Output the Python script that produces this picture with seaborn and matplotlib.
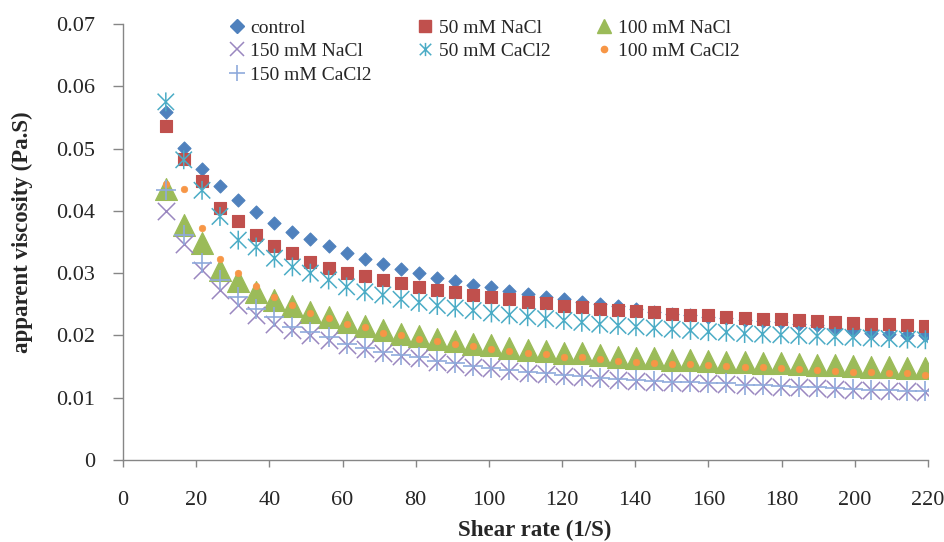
import numpy as np
import pandas as pd
import matplotlib
matplotlib.use("Agg")
import matplotlib.pyplot as plt
from matplotlib.path import Path
from matplotlib.lines import Line2D
import seaborn as sns

# Shear rate (1/S)
shear = [11.7, 16.6, 21.6, 26.5, 31.5, 36.4, 41.4, 46.3, 51.2, 56.2, 61.1,
         66.1, 71.0, 76.0, 80.9, 85.9, 90.8, 95.7, 100.7, 105.6, 110.6, 115.5,
         120.5, 125.4, 130.3, 135.3, 140.2, 145.2, 150.1, 155.1, 160.0, 164.9,
         169.9, 174.8, 179.8, 184.7, 189.7, 194.6, 199.5, 204.5, 209.4, 214.4,
         219.3]

# Apparent viscosity (Pa.S) for each treatment
control = [0.0558, 0.0501, 0.0467, 0.0440, 0.0417, 0.0398, 0.0381, 0.0366,
           0.0355, 0.0344, 0.0332, 0.0323, 0.0314, 0.0306, 0.0301, 0.0293,
           0.0287, 0.0281, 0.0277, 0.0272, 0.0266, 0.0262, 0.0258, 0.0254,
           0.0250, 0.0247, 0.0243, 0.0238, 0.0235, 0.0232, 0.0230, 0.0228,
           0.0225, 0.0223, 0.0221, 0.0219, 0.0216, 0.0212, 0.0207, 0.0204,
           0.0202, 0.0201, 0.0200]
nacl_50 = [0.0536, 0.0483, 0.0448, 0.0405, 0.0384, 0.0361, 0.0344, 0.0333,
           0.0318, 0.0309, 0.0301, 0.0295, 0.0289, 0.0284, 0.0277, 0.0273,
           0.0269, 0.0265, 0.0261, 0.0258, 0.0254, 0.0252, 0.0248, 0.0245,
           0.0243, 0.0241, 0.0239, 0.0237, 0.0235, 0.0233, 0.0232, 0.0230,
           0.0228, 0.0226, 0.0226, 0.0225, 0.0223, 0.0222, 0.0220, 0.0219,
           0.0218, 0.0217, 0.0215]
nacl_100 = [0.0435, 0.0378, 0.0348, 0.0305, 0.0287, 0.0270, 0.0257, 0.0248,
            0.0238, 0.0230, 0.0222, 0.0215, 0.0208, 0.0203, 0.0199, 0.0195,
            0.0191, 0.0187, 0.0184, 0.0180, 0.0177, 0.0175, 0.0172, 0.0171,
            0.0168, 0.0166, 0.0164, 0.0163, 0.0161, 0.0160, 0.0159, 0.0158,
            0.0157, 0.0156, 0.0155, 0.0154, 0.0153, 0.0152, 0.0151, 0.0150,
            0.0149, 0.0148, 0.0147]
nacl_150 = [0.0399, 0.0346, 0.0305, 0.0273, 0.0249, 0.0233, 0.0219, 0.0209,
            0.0201, 0.0193, 0.0185, 0.0178, 0.0171, 0.0167, 0.0164, 0.0158,
            0.0154, 0.0150, 0.0147, 0.0143, 0.0140, 0.0138, 0.0135, 0.0134,
            0.0131, 0.0129, 0.0127, 0.0126, 0.0125, 0.0124, 0.0123, 0.0122,
            0.0120, 0.0119, 0.0118, 0.0117, 0.0116, 0.0114, 0.0113, 0.0112,
            0.0111, 0.0110, 0.0109]
cacl2_50 = [0.0575, 0.0482, 0.0433, 0.0391, 0.0353, 0.0342, 0.0324, 0.0310,
            0.0300, 0.0289, 0.0278, 0.0270, 0.0265, 0.0258, 0.0253, 0.0248,
            0.0244, 0.0240, 0.0236, 0.0233, 0.0230, 0.0227, 0.0224, 0.0221,
            0.0218, 0.0216, 0.0214, 0.0212, 0.0210, 0.0208, 0.0206, 0.0205,
            0.0203, 0.0202, 0.0201, 0.0200, 0.0199, 0.0198, 0.0197, 0.0196,
            0.0195, 0.0194, 0.0193]
cacl2_100 = [0.0443, 0.0435, 0.0373, 0.0322, 0.0301, 0.0280, 0.0262, 0.0249,
             0.0236, 0.0228, 0.0218, 0.0213, 0.0204, 0.0201, 0.0195, 0.0191,
             0.0187, 0.0183, 0.0179, 0.0175, 0.0172, 0.0170, 0.0166, 0.0166,
             0.0162, 0.0159, 0.0158, 0.0156, 0.0154, 0.0154, 0.0152, 0.0151,
             0.0150, 0.0149, 0.0147, 0.0146, 0.0144, 0.0143, 0.0142, 0.0142,
             0.0140, 0.0140, 0.0136]
cacl2_150 = [0.0433, 0.0362, 0.0316, 0.0289, 0.0262, 0.0243, 0.0230, 0.0214,
             0.0206, 0.0197, 0.0187, 0.0180, 0.0173, 0.0168, 0.0165, 0.0159,
             0.0155, 0.0151, 0.0148, 0.0144, 0.0141, 0.0139, 0.0136, 0.0135,
             0.0132, 0.0130, 0.0128, 0.0127, 0.0126, 0.0125, 0.0124, 0.0123,
             0.0121, 0.0120, 0.0119, 0.0118, 0.0117, 0.0115, 0.0114, 0.0113,
             0.0112, 0.0111, 0.0110]

labels = ["control", "50 mM NaCl", "100 mM NaCl", "150 mM NaCl",
          "50 mM CaCl2", "100 mM CaCl2", "150 mM CaCl2"]
series = [control, nacl_50, nacl_100, nacl_150, cacl2_50, cacl2_100, cacl2_150]

x_ticks = list(range(0, 221, 20))
y_ticks = [0, 0.01, 0.02, 0.03, 0.04, 0.05, 0.06, 0.07]
y_tick_labels = ["0", "0.01", "0.02", "0.03", "0.04", "0.05", "0.06", "0.07"]

# Asterisk: an X crossed by a vertical bar
asterisk = Path([(-1, -1), (1, 1), (-1, 1), (1, -1), (0, -1.15), (0, 1.15)],
                [Path.MOVETO, Path.LINETO, Path.MOVETO, Path.LINETO,
                 Path.MOVETO, Path.LINETO])

# marker, colour, scatter size, line width, kind, legend marker size
#   kind: "fill" solid marker, "line" built-in line marker, "path" outline path
styles = [
    ("D", "#4F81BD", 44, 0.8, "fill", 7.5),
    ("s", "#C0504D", 66, 0.8, "fill", 8.5),
    ("^", "#9BBB59", 250, 0.8, "fill", 10),
    ("x", "#9A87C0", 155, 1.1, "line", 9.5),
    (asterisk, "#4BACC6", 185, 1.1, "path", 9.5),
    ("o", "#F79646", 22, 0.5, "fill", 4.5),
    ("+", "#8FAADC", 200, 1.2, "line", 11),
]

sns.set_theme(style="white")
plt.rcParams["font.family"] = ["Liberation Serif", "DejaVu Serif"]

fig = plt.figure(figsize=(9.44, 5.42), dpi=100)
ax = fig.add_axes([0.1303, 0.1513, 0.8527, 0.8044])

df = pd.DataFrame({"shear": shear})
for lab, vals, (mk, col, size, lw, kind, _) in zip(labels, series, styles):
    df[lab] = vals
    kw = dict(marker=mk, s=size, linewidth=lw, ax=ax, legend=False)
    if kind == "fill":
        kw.update(color=col, edgecolor=col)
    elif kind == "path":
        kw.update(facecolor="none", edgecolor=col)
    else:
        kw.update(color=col)
    sns.scatterplot(data=df, x="shear", y=lab, **kw)

ax.set_xlim(0, 220)
ax.set_ylim(0, 0.07)
ax.set_xticks(x_ticks)
ax.set_yticks(y_ticks)
ax.set_yticklabels(y_tick_labels)
ax.tick_params(axis="x", direction="out", length=5, width=1, color="#868686",
               pad=17, labelsize=16)
ax.tick_params(axis="y", direction="out", length=7, width=1, color="#868686",
               pad=13, labelsize=16)
ax.tick_params(bottom=True, left=True)
for side in ("top", "right"):
    ax.spines[side].set_visible(False)
for side in ("left", "bottom"):
    ax.spines[side].set_color("#868686")
    ax.spines[side].set_linewidth(1)
ax.grid(False)

ax.set_xlabel("Shear rate (1/S)", fontsize=16.5, fontweight="bold")
ax.set_ylabel("apparent viscosity (Pa.S)", fontsize=16.5, fontweight="bold")
ax.xaxis.set_label_coords(0.512, -0.137)
ax.yaxis.set_label_coords(-0.112, 0.523)

# Legend laid out in rows of three (matplotlib fills columns first)
handles = []
for mk, col, size, lw, kind, ms in styles:
    if kind == "fill":
        h = Line2D([], [], linestyle="none", marker=mk, color=col,
                   markeredgecolor=col, markersize=ms)
    else:
        h = Line2D([], [], linestyle="none", marker=mk, color=col,
                   markerfacecolor="none", markeredgecolor=col,
                   markersize=ms, markeredgewidth=lw)
    handles.append(h)
order = [0, 3, 6, 1, 4, 2, 5]
ax.legend([handles[i] for i in order], [labels[i] for i in order],
          ncol=3, loc="upper left", bbox_to_anchor=(229 / 944, 1 - 19 / 542),
          bbox_transform=fig.transFigure, frameon=False, fontsize=14,
          handlelength=0.8, handletextpad=0.3, columnspacing=2.35,
          labelspacing=0.3, borderpad=0, borderaxespad=0)

fig.savefig("out.png", dpi=100)
